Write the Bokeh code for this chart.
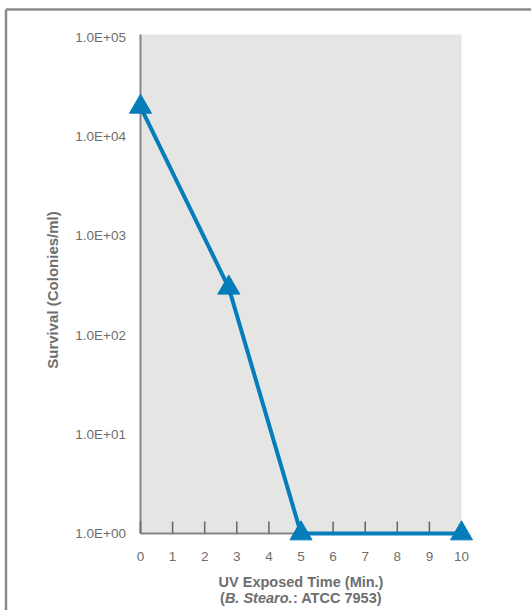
import numpy as np
from bokeh.plotting import figure
from bokeh.models import Range1d, Label
from bokeh.core.properties import value
from bokeh.embed import file_html
from bokeh.resources import INLINE

# ---- data ----
time_min = [0, 2.75, 5, 10]
survival = [20000, 300, 1, 1]
x_ticks = [0, 1, 2, 3, 4, 5, 6, 7, 8, 9, 10]
x_tick_labels = ["0", "1", "2", "3", "4", "5", "6", "7", "8", "9", "10"]
y_ticks = [1, 10, 100, 1000, 10000, 100000]
y_tick_labels = ["1.0E+00", "1.0E+01", "1.0E+02", "1.0E+03", "1.0E+04", "1.0E+05"]
x_title = "UV Exposed Time (Min.)"
x_sub_open = "("
x_sub_italic = "B. Stearo."
x_sub_rest = ": ATCC 7953)"
y_title = "Survival (Colonies/ml)"

# ---- layout helpers (canvas pixel -> data) ----
W, H = 531, 610
PX0, PXU = 140.0, 32.1   # pixel x of time 0, px per minute
PY0, PYD = 533.0, 99.2   # pixel y of 1.0E+00, px per decade


def px2x(px):
    return (px - PX0) / PXU


def py2y(py):
    return 10 ** ((PY0 - py) / PYD)


BLUE = "#047dba"
GREY_TXT = "#6e6e6e"
AXIS = "#858585"
FONT = "Liberation Sans"

p = figure(width=W, height=H,
           x_range=Range1d(px2x(0), px2x(W)),
           y_range=Range1d(py2y(H), py2y(0)),
           y_axis_type="log",
           x_axis_location=None, y_axis_location=None,
           output_backend="svg", toolbar_location=None,
           min_border=0, outline_line_color=None,
           background_fill_color="white", border_fill_color="white")
p.xgrid.visible = False
p.ygrid.visible = False

x_min, x_max = min(x_ticks), max(x_ticks)
y_min = min(y_ticks)
top_val = py2y(34)

# outer frame (left and top edges visible)
p.segment(x0=[px2x(5.5), px2x(5.5)], y0=[py2y(9), py2y(9)],
          x1=[px2x(5.5), px2x(W + 5)], y1=[py2y(H + 5), py2y(9)],
          line_color="#8a8a8a", line_width=2.5)

# plot background
p.quad(left=[x_min], right=[x_max], bottom=[y_min], top=[top_val],
       fill_color="#e5e6e3", line_color=None)

# axis lines
p.segment(x0=[x_min, x_min], y0=[y_min, y_min], x1=[x_min, x_max], y1=[top_val, y_min],
          line_color=AXIS, line_width=2)

# x ticks (inside)
p.segment(x0=x_ticks, y0=[y_min] * len(x_ticks), x1=x_ticks,
          y1=[py2y(PY0 - 12)] * len(x_ticks),
          line_color="#666666", line_width=1.5)

# tick labels
p.text(x=x_ticks, y=[py2y(551)] * len(x_ticks), text=x_tick_labels,
       text_align="center", text_baseline="top",
       text_font=value(FONT), text_font_size=value("13.5px"), text_color=GREY_TXT)
p.text(x=[px2x(125.5)] * len(y_ticks), y=y_ticks, text=y_tick_labels,
       text_align="right", text_baseline="middle",
       text_font=value(FONT), text_font_size=value("13.5px"), text_color=GREY_TXT)

# data
p.line(time_min, survival, line_width=4, line_color=BLUE, line_join="miter")
p.scatter(time_min, survival, marker="triangle", size=22,
          fill_color=BLUE, line_color=BLUE, line_width=1)

# titles
tkw = dict(text_font=FONT, text_font_style="bold", text_font_size="14.5px",
           text_color=GREY_TXT)
xc = (x_min + x_max) / 2
p.add_layout(Label(x=xc, y=py2y(581), text=x_title, text_align="center",
                   text_baseline="alphabetic", **tkw))
y2 = py2y(597)
start = -81.0
p.add_layout(Label(x=xc, y=y2, x_offset=start, text=x_sub_open, text_align="left",
                   text_baseline="alphabetic", **tkw))
p.add_layout(Label(x=xc, y=y2, x_offset=start + 4.9, text=x_sub_italic, text_align="left",
                   text_baseline="alphabetic", text_font=FONT, text_font_style="bold italic",
                   text_font_size="14.5px", text_color=GREY_TXT))
p.add_layout(Label(x=xc, y=y2, x_offset=start + 4.9 + 68.0, text=x_sub_rest, text_align="left",
                   text_baseline="alphabetic", **tkw))
p.add_layout(Label(x=px2x(52), y=py2y(289.5), text=y_title, angle=np.pi / 2,
                   text_align="center", text_baseline="middle",
                   text_font=FONT, text_font_style="bold", text_font_size="15px",
                   text_color=GREY_TXT))

open("out.html", "w").write(file_html(p, INLINE))
